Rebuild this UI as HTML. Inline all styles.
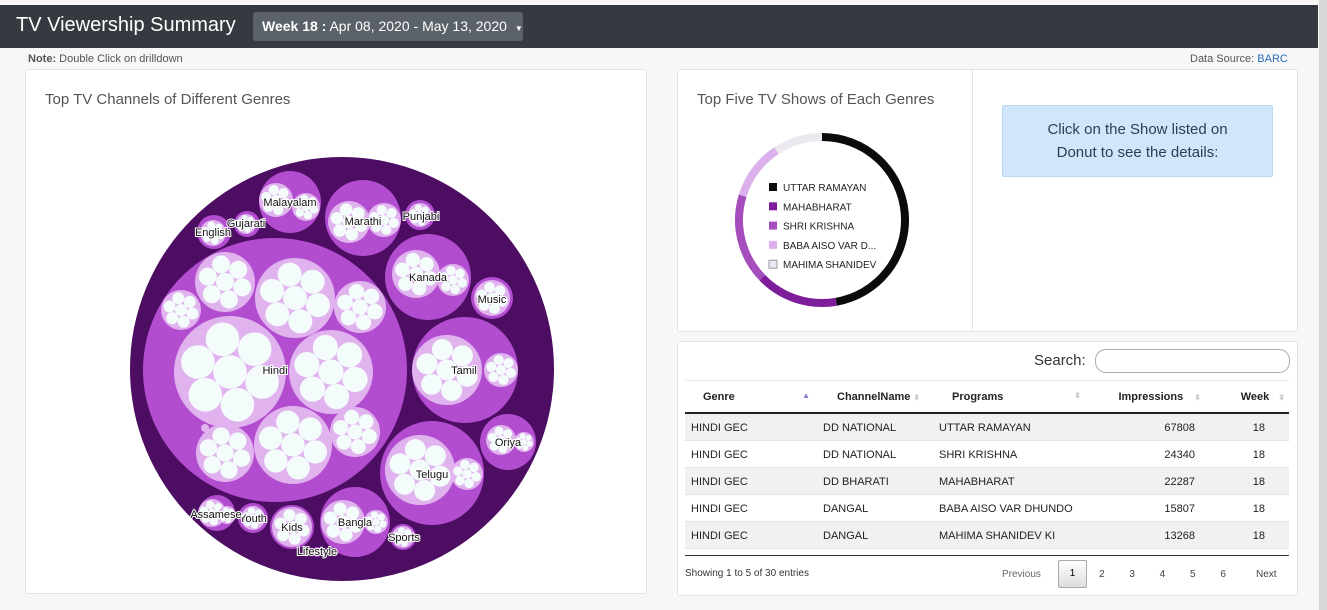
<!DOCTYPE html>
<html><head><meta charset="utf-8">
<style>
body{margin:0;width:1327px;height:610px;background:#f7f7f7;font-family:"Liberation Sans",Arial,sans-serif;position:relative;overflow:hidden}
.abs{position:absolute}
.hdr{left:0;top:5px;width:1318px;height:43px;background:#343a40}
.panel{background:#fff;border:1px solid #e3e3e3;border-radius:3px;box-sizing:border-box}
th,td{font-size:11px;color:#222;padding:0}
table{table-layout:fixed}
</style></head><body>
<div class="abs hdr">
  <div class="abs" style="left:16px;top:9px;color:#fff;font-size:20px">TV Viewership Summary</div>
  <div class="abs" style="left:253px;top:7px;width:270px;height:29px;background:#5a6169;border-radius:3px;color:#fff;font-size:14px;line-height:29px;padding-left:9px;box-sizing:border-box"><b>Week 18 :</b> Apr 08, 2020 - May 13, 2020 <span style="font-size:8px;margin-left:4px">▼</span></div>
</div>
<div class="abs" style="left:1319px;top:0;width:8px;height:610px;background:#d8d8d8"></div>
<div class="abs" style="left:28px;top:53px;font-size:11px;color:#555"><b>Note:</b> Double Click on drilldown</div>
<div class="abs" style="left:1190px;top:53px;font-size:11px;color:#555">Data Source: <span style="color:#2a6ebb">BARC</span></div>

<div class="abs panel" style="left:25px;top:69px;width:622px;height:525px">
  <div class="abs" style="left:19px;top:21px;font-size:15px;color:#555">Top TV Channels of Different Genres</div>
</div>
<svg class="abs" style="left:0;top:0" width="660" height="600" id="pack"></svg>

<div class="abs panel" style="left:677px;top:69px;width:621px;height:263px">
  <div class="abs" style="left:19px;top:21px;font-size:15px;color:#555">Top Five TV Shows of Each Genres</div>
  <div class="abs" style="left:294px;top:0;width:1px;height:262px;background:#e3e3e3"></div>
  <div class="abs" style="left:324px;top:35px;width:271px;height:72px;background:#cfe6fb;border:1px solid #b8d8f4;border-radius:2px;color:#2c3e55;font-size:15px;text-align:center;line-height:23px;padding-top:12px;box-sizing:border-box">Click on the Show listed on<br>Donut to see the details:</div>
</div>
<svg class="abs" style="left:677px;top:69px" width="294" height="262" id="donut"></svg>

<div class="abs panel" style="left:677px;top:341px;width:621px;height:255px">
  <div class="abs" style="left:356px;top:10px;font-size:15px;color:#333">Search:</div>
  <div class="abs" style="left:417px;top:7px;width:193px;height:22px;border:1px solid #aaa;border-radius:11px"></div>
  <div class="abs" style="left:7px;top:38px;width:604px;height:1px;background:#e8e8e8"></div>
  <table class="abs" style="left:7px;top:39px;width:604px;border-collapse:collapse">
    <colgroup><col style="width:131px"><col style="width:117px"><col style="width:148px"><col style="width:120px"><col style="width:88px"></colgroup>
    <thead><tr style="height:32px;border-bottom:2px solid #222">
      <th style="text-align:left;padding-left:18px">Genre <span style="color:#7b7bc8;font-size:8px;float:right;margin-right:6px">▲</span></th>
      <th style="text-align:left;padding-left:21px">ChannelName <span style="color:#ccc;font-size:8px">⬍</span></th>
      <th style="text-align:left;padding-left:19px">Programs <span style="color:#ccc;font-size:8px;float:right;margin-right:0px">⬍</span></th>
      <th style="text-align:right;padding-right:0px">Impressions <span style="color:#ccc;font-size:8px;margin-left:8px">⬍</span></th>
      <th style="text-align:right;padding-right:4px">Week <span style="color:#ccc;font-size:8px;margin-left:6px">⬍</span></th>
    </tr></thead>
    <tbody id="tb"></tbody>
  </table>
  <div class="abs" style="left:7px;top:213px;width:604px;height:1px;background:#333"></div>
  <div class="abs" style="left:7px;top:226px;font-size:10px;color:#333">Showing 1 to 5 of 30 entries</div>
  <div class="abs" style="left:324px;top:227px;font-size:10px;color:#666">Previous</div>
  <div class="abs" style="left:380px;top:218px;width:27px;height:26px;border:1px solid #aaa;background:linear-gradient(#fff,#ddd);border-radius:2px;font-size:10px;text-align:center;line-height:26px">1</div>
  <div class="abs" style="left:421px;top:227px;font-size:10px;color:#444;word-spacing:22px">2 3 4 5 6</div>
  <div class="abs" style="left:578px;top:227px;font-size:10px;color:#444">Next</div>
</div>

<script>
const ns="http://www.w3.org/2000/svg";
function mk(p,t,a){const e=document.createElementNS(ns,t);for(const k in a)e.setAttribute(k,a[k]);p.appendChild(e);return e;}
// ---------- table data
const genres=["HINDI GEC","HINDI GEC","HINDI GEC","HINDI GEC","HINDI GEC"];
const channels=["DD NATIONAL","DD NATIONAL","DD BHARATI","DANGAL","DANGAL"];
const programs=["UTTAR RAMAYAN","SHRI KRISHNA","MAHABHARAT","BABA AISO VAR DHUNDO","MAHIMA SHANIDEV KI"];
const impressions=[67808,24340,22287,15807,13268];
const weeks=[18,18,18,18,18];
const tb=document.getElementById('tb');
for(let i=0;i<5;i++){
  const tr=document.createElement('tr');
  
  
  tr.style.height='27px';tr.style.background=i%2==0?'#f1f1f1':'#fff';tr.style.borderBottom='1px solid #e4e4e4';
  tr.innerHTML=`<td style="padding-left:6px;padding-top:3px">${genres[i]}</td><td style="padding-left:7px;padding-top:3px">${channels[i]}</td><td style="padding-left:6px;padding-top:3px">${programs[i]}</td><td style="text-align:right;padding-right:6px;padding-top:3px">${impressions[i]}</td><td style="text-align:right;padding-right:24px;padding-top:3px">${weeks[i]}</td>`;
  tb.appendChild(tr);
}
// ---------- donut
const donutLabels=["UTTAR RAMAYAN","MAHABHARAT","SHRI KRISHNA","BABA AISO VAR D...","MAHIMA SHANIDEV"];
const donutValues=[67808,22287,24340,15807,13268];
const donutColors=["#0b0b0b","#7e1d9a","#a64dbd","#dcb0ec","#ece8f0"];
const dsvg=document.getElementById('donut');
const cx=145,cy=151,R=87,th=8;
const tot=donutValues.reduce((a,b)=>a+b,0);
let ang=0;
donutValues.forEach((v,i)=>{
  const a0=ang,a1=ang+v/tot*2*Math.PI;ang=a1;
  const r=R-th/2;
  const p=`M${cx+r*Math.sin(a0)} ${cy-r*Math.cos(a0)} A${r} ${r} 0 ${a1-a0>Math.PI?1:0} 1 ${cx+r*Math.sin(a1)} ${cy-r*Math.cos(a1)}`;
  const e=mk(dsvg,'path',{d:p,fill:'none',stroke:donutColors[i],'stroke-width':th});
  
  
  const sq=mk(dsvg,'rect',{x:92,y:114+i*19.3,width:8,height:8,fill:donutColors[i],stroke:i==4?'#99a':'none'});
  
  
  const t=mk(dsvg,'text',{x:106,y:122+i*19.3,'font-size':10,fill:'#222','font-family':'Liberation Sans'});
  t.textContent=donutLabels[i];
  
  
});
// ---------- circle pack
const packNames=["Hindi","Malayalam","Marathi","Punjabi","Gujarati","English","Kanada","Music","Tamil","Oriya","Telugu","Bangla","Sports","Kids","Lifestyle","Youth","Assamese"];
const packCircles=[[275,370,132],[290,202,31],[363,218,38],[420,215,15],[247,224,13],[214,232,17],[428,277,43],[492,298,21],[465,370,53],[508,442,28],[432,473,52],[355,522,35],[403,537,13],[292,527,22],[317,552,5],[253,518,15],[217,513,18]];
const packChildren=[
 [[225,282,30],[295,298,40],[360,307,26],[181,310,20],[230,372,56],[331,372,42],[293,445,39],[355,432,25],[225,453,29],[205,428,4]],
 [[276,200,17],[306,207,14]],[[349,222,21],[384,220,17]],[[420,215,12]],[[246,224,10]],[[213,233,13]],
 [[416,274,24],[453,280,16]],[[492,298,18]],[[447,370,35],[501,370,17]],[[501,440,15],[524,442,10]],
 [[420,470,35],[467,474,16]],[[343,522,22],[376,522,12]],[[403,537,11]],[[292,527,20]],[[317,552,4]],[[253,518,12]],[[212,513,14],[227,515,9]]];
const labelPos=[[275,370],[290,202],[363,221],[421,216],[246,223],[213,232],[428,277],[492,299],[464,370],[508,442],[432,474],[355,522],[404,537],[292,527],[317,551],[253,518],[216,514]];
const ps=document.getElementById('pack');
const root=mk(ps,'circle',{cx:342,cy:369,r:212,fill:'#4d0d63'});


packCircles.forEach((c,i)=>{
  const g=mk(ps,'circle',{cx:c[0],cy:c[1],r:c[2],fill:'#b24dd0'});
  
  
  packChildren[i].forEach(ch=>{
    const cc=mk(ps,'circle',{cx:ch[0],cy:ch[1],r:ch[2],fill:'#e1b3ee'});
    
    
    const r=ch[2];
    if(r<6)return;
    const dots=[[0,0]];for(let k=0;k<6;k++){const a=k*Math.PI/3+0.3;dots.push([0.6*r*Math.cos(a),0.6*r*Math.sin(a)]);}
    dots.forEach(d=>{
      const w=mk(ps,'circle',{cx:ch[0]+d[0],cy:ch[1]+d[1],r:r*0.3,fill:'#f3fbfb'});
      
      
    });
  });
});
packNames.forEach((n,i)=>{
  const t=mk(ps,'text',{x:labelPos[i][0],y:labelPos[i][1]+4,'text-anchor':'middle','font-size':11,fill:'#111',stroke:'#fff','stroke-width':2,'paint-order':'stroke','font-family':'Liberation Sans'});
  t.textContent=n;
  
  
});
</script>
</body></html>
